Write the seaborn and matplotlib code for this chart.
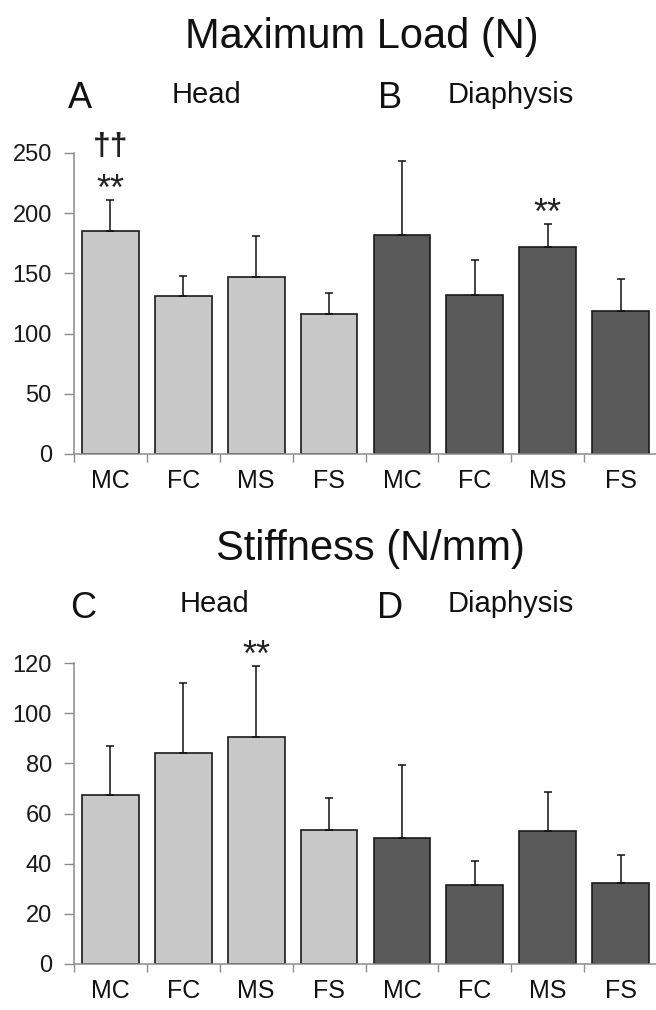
import matplotlib
matplotlib.use('Agg')
import seaborn as sns
import pandas as pd
import numpy as np
import matplotlib.pyplot as plt

groups = ['MC', 'FC', 'MS', 'FS']
regions = ['Head', 'Diaphysis']

load_head = [185, 131, 147, 116]
load_head_sd = [26, 17, 34, 17.5]
load_diaph = [182, 132, 172, 119]
load_diaph_sd = [61, 29, 19, 26]

stiff_head = [67.5, 84, 90.4, 53.5]
stiff_head_sd = [19.3, 28.2, 28.4, 12.7]
stiff_diaph = [50.2, 31.6, 53, 32.2]
stiff_diaph_sd = [29.3, 9.4, 15.5, 11.4]

# significance marks: bar index -> text
load_stars = {0: '**', 6: '**'}
load_daggers = {0: '\u2020\u2020'}
stiff_stars = {2: '**'}

light = '#c8c8c8'
dark = '#5a5a5a'
spine_col = '#8c8c8c'

sns.set_style('white')
plt.rcParams['font.family'] = ['Liberation Sans', 'DejaVu Sans']


def make_df(head, head_sd, diaph, diaph_sd):
    keys = ['%s %s' % (r, g) for r in regions for g in groups]
    return pd.DataFrame({
        'key': keys,
        'label': groups * 2,
        'region': ['Head'] * 4 + ['Diaphysis'] * 4,
        'value': list(head) + list(diaph),
        'sd': list(head_sd) + list(diaph_sd),
    })


def draw(ax, df, ymax, ystep, stars, daggers):
    sns.barplot(data=df, x='key', y='value', hue='region', order=list(df['key']),
                palette={'Head': light, 'Diaphysis': dark}, width=0.78,
                edgecolor='#1a1a1a', linewidth=1.2, errorbar=None,
                legend=False, ax=ax)
    pos = np.arange(len(df))
    ax.errorbar(pos, df['value'], yerr=[np.zeros(len(df)), df['sd']], fmt='none',
                ecolor='#111111', elinewidth=1.1, capsize=3, capthick=1.1, zorder=3)
    ax.set_xlim(-0.5, len(df) - 0.5)
    ax.set_ylim(0, ymax)
    ax.set_yticks(np.arange(0, ymax + 1, ystep))
    ax.set_xticks(pos)
    ax.set_xticklabels(df['label'])
    ax.set_xticks(np.arange(-0.5, len(df), 1), minor=True)
    ax.tick_params(axis='x', which='major', length=0, labelsize=18, pad=11, colors='#111111')
    ax.tick_params(axis='x', which='minor', length=6, width=1, color=spine_col, direction='out', bottom=True)
    ax.tick_params(axis='y', length=7, width=1, color=spine_col, labelsize=17,
                   labelcolor='#1a1a1a', pad=9, left=True)
    ax.set_xlabel('')
    ax.set_ylabel('')
    for s in ['top', 'right']:
        ax.spines[s].set_visible(False)
    for s in ['left', 'bottom']:
        ax.spines[s].set_color(spine_col)
        ax.spines[s].set_linewidth(1.1)
    for i, t in stars.items():
        top = df['value'][i] + df['sd'][i]
        ax.annotate(t, xy=(i, top), xytext=(0, 0), textcoords='offset points',
                    ha='center', va='baseline', fontsize=26, color='#222222',
                    annotation_clip=False)
    for i, t in daggers.items():
        top = df['value'][i] + df['sd'][i]
        ax.annotate(t, xy=(i, top), xytext=(0, 38), textcoords='offset points',
                    ha='center', va='center', fontsize=23, fontweight='bold',
                    color='#222222', annotation_clip=False)


W, H = 656, 1010
fig = plt.figure(figsize=(W / 100, H / 100), dpi=100)

ax1 = fig.add_axes([74 / W, 1 - 454 / H, 583 / W, 301 / H])
draw(ax1, make_df(load_head, load_head_sd, load_diaph, load_diaph_sd), 250, 50,
     load_stars, load_daggers)

ax2 = fig.add_axes([74 / W, 1 - 964 / H, 583 / W, 301 / H])
draw(ax2, make_df(stiff_head, stiff_head_sd, stiff_diaph, stiff_diaph_sd), 120, 20,
     stiff_stars, {})


def ftext(x, y, s, size, **kw):
    fig.text(x / W, 1 - y / H, s, fontsize=size, va='baseline', color='#111111', **kw)


ftext(362, 48, 'Maximum Load (N)', 30, ha='center')
ftext(68, 108, 'A', 26)
ftext(172, 103, 'Head', 21)
ftext(378, 108, 'B', 26)
ftext(448, 103, 'Diaphysis', 21)

ftext(370, 560, 'Stiffness (N/mm)', 30, ha='center')
ftext(70, 618, 'C', 26)
ftext(180, 612, 'Head', 21)
ftext(377, 618, 'D', 26)
ftext(448, 612, 'Diaphysis', 21)

plt.savefig('out.png', dpi=100)
plt.close()
